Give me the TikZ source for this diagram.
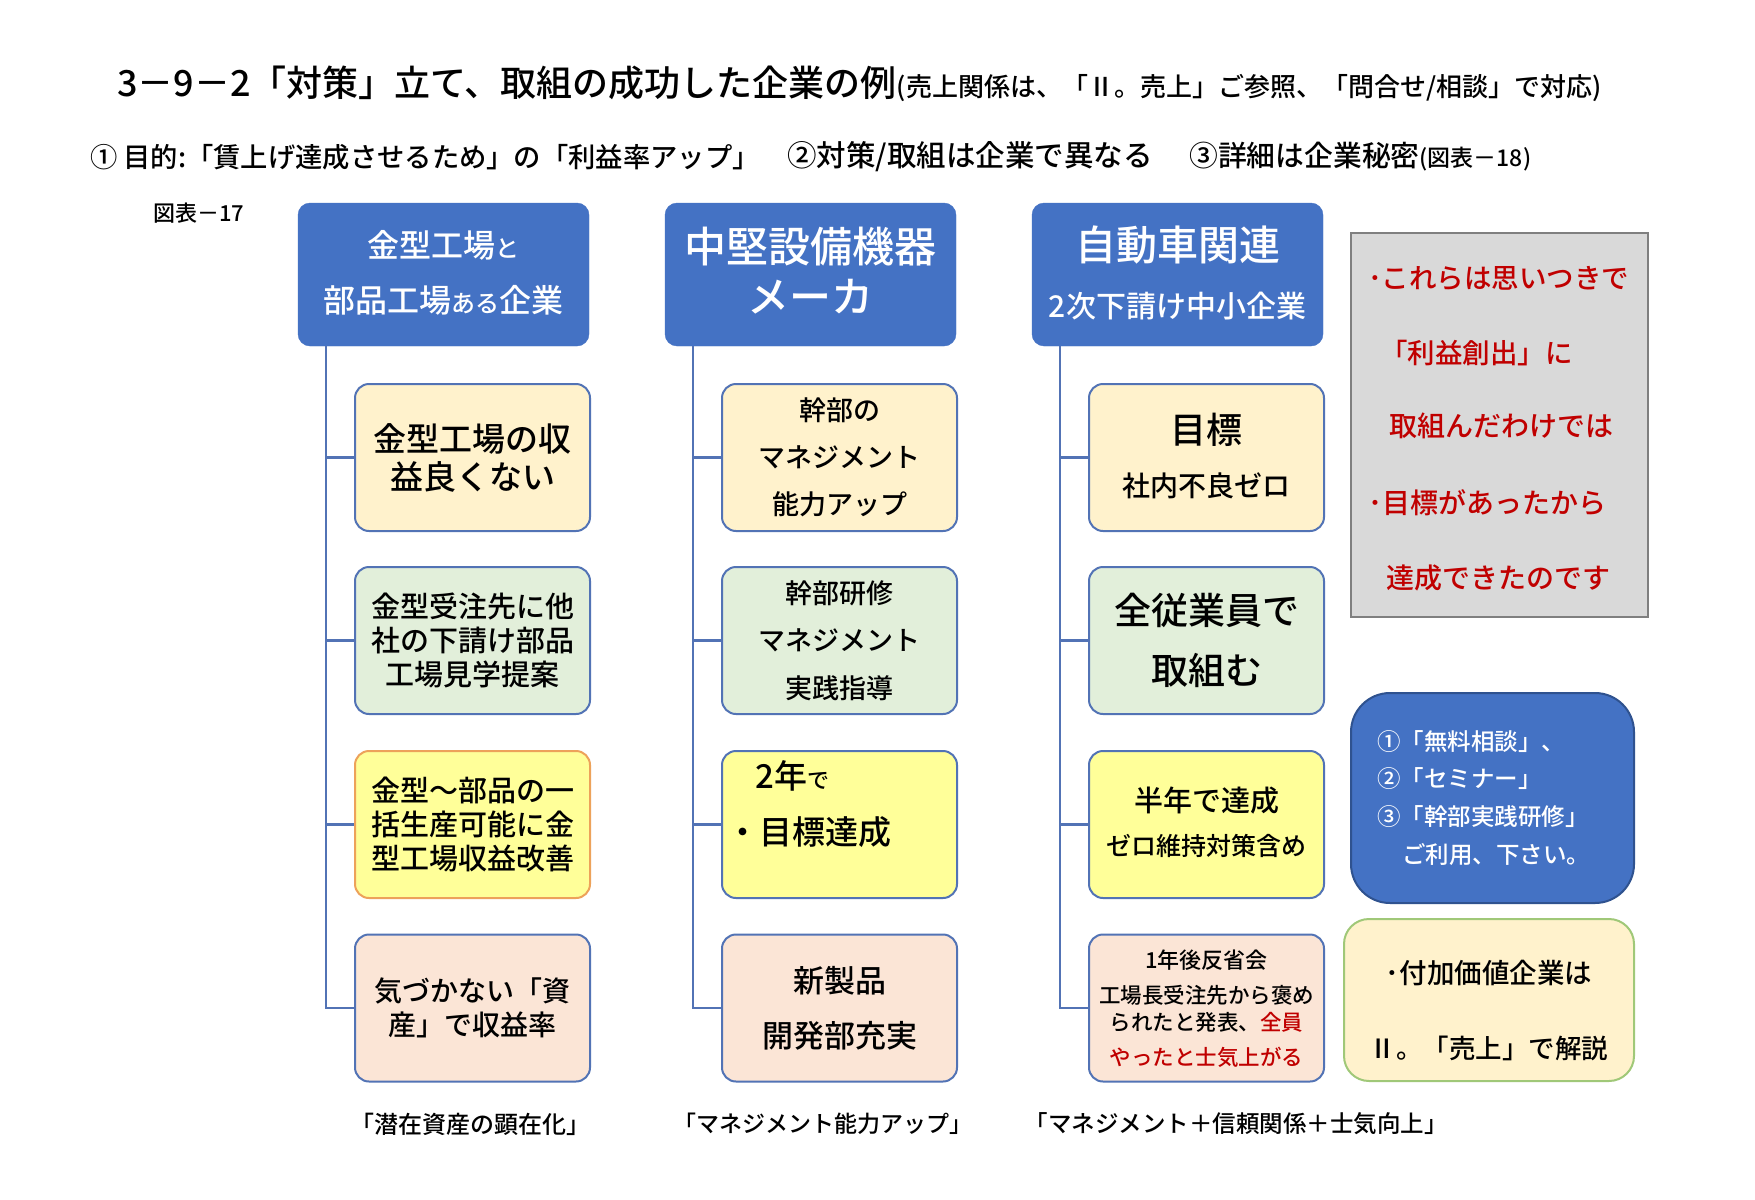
\documentclass[tikz,border=0pt]{standalone}
\usepackage{fontspec}
\setmainfont{Noto Sans CJK JP}[BoldFont={Noto Sans CJK JP Medium}]
\usetikzlibrary{calc}
\definecolor{hblue}{HTML}{4472C4}
\definecolor{bdr}{HTML}{5273B5}
\definecolor{dblue}{HTML}{2F528F}
\definecolor{fy}{HTML}{FFF2CC}
\definecolor{fg}{HTML}{E2EFDA}
\definecolor{fyy}{HTML}{FFFF99}
\definecolor{fp}{HTML}{FBE5D6}
\definecolor{org}{HTML}{EDA25A}
\definecolor{jred}{HTML}{C00000}
\definecolor{gbox}{HTML}{D9D9D9}
\definecolor{gbdr}{HTML}{7F7F7F}
\definecolor{grn}{HTML}{A0C878}
\newcommand{\fsz}[1]{\fontsize{#1}{#1}\selectfont}
\newcommand{\fsl}[2]{\fontsize{#1}{#2}\selectfont}
\tikzset{
  hbox/.style={draw=hblue, fill=hblue, rounded corners=12pt, minimum width=291pt, minimum height=143pt, inner sep=0pt},
  cbox/.style={draw=bdr, line width=2pt, rounded corners=14pt, minimum width=235pt, minimum height=147pt, inner sep=0pt, align=center},
  txt/.style={inner sep=0pt},
  htxt/.style={inner sep=0pt, text=white},
  conn/.style={draw=bdr, line width=2.2pt},
}
\begin{document}
\begin{tikzpicture}[x=1pt,y=-1pt]
\useasboundingbox (0,0) rectangle (1755,1199);
\fill[white] (0,0) rectangle (1755,1199);

% title
\node[txt, anchor=west] (title) at (117,84) {\bfseries{\fsz{36}3－9－2「対策」立て、取組の成功した企業の例}{\fsz{26}(売上関係は、「Ⅱ。売上」ご参照、「問合せ/相談」で対応)}};
\node[txt, anchor=west] (l2a) at (90,157) {\bfseries\fsz{27.3}① 目的:「賃上げ達成させるため」の「利益率アップ」};
\node[txt, anchor=west] (l2b) at (787,157) {\bfseries\fsz{29.5}②対策/取組は企業で異なる};
\node[txt, anchor=west] (l2c) at (1189,157) {\bfseries{\fsz{28.8}③詳細は企業秘密}{\fsz{23}(図表－18)}};
\node[txt, anchor=west] (fig) at (153,213) {\bfseries\fsz{22}図表－17};

% headers
\node[hbox] (h1) at (443.5,274.5) {};
\node[hbox] (h2) at (810.5,274.5) {};
\node[hbox] (h3) at (1177.5,274.5) {};
\node[htxt] (h1a) at (443.5,245) {\bfseries\fsz{32}金型工場{\fsz{24}と}};
\node[htxt] (h1b) at (443.5,300) {\bfseries\fsz{32}部品工場{\fsz{24}ある}企業};
\node[htxt] (h2a) at (810.5,247) {\bfseries\fsz{42}中堅設備機器};
\node[htxt] (h2b) at (810.5,297) {\bfseries\fsz{42}メーカ};
\node[htxt] (h3a) at (1177.5,245) {\bfseries\fsz{41}自動車関連};
\node[htxt] (h3b) at (1177.5,306) {\bfseries\fsz{30}2次下請け中小企業};

% column 1
\node[cbox, fill=fy, font={\bfseries\fsl{33}{38}}] (c11) at (472.5,457.5) {金型工場の収\\益良くない};
\node[cbox, fill=fg, font={\bfseries\fsl{29}{34}}] (c12) at (472.5,640.5) {金型受注先に他\\社の下請け部品\\工場見学提案};
\node[cbox, draw=org, fill=fyy, font={\bfseries\fsl{29}{34}}] (c13) at (472.5,824.5) {金型～部品の一\\括生産可能に金\\型工場収益改善};
\node[cbox, fill=fp, font={\bfseries\fsl{28}{34}}] (c14) at (472.5,1008) {気づかない「資\\産」で収益率};

% column 2
\node[cbox, fill=fy, font={\bfseries\fsl{27}{47}}] (c21) at (839.5,457.5) {幹部の\\マネジメント\\能力アップ};
\node[cbox, fill=fg, font={\bfseries\fsl{27}{47.5}}] (c22) at (839.5,640.5) {幹部研修\\マネジメント\\実践指導};
\node[cbox, fill=fyy] (c23) at (839.5,824.5) {};
\node[txt, anchor=west] (c23a) at (755,776) {\bfseries\fsz{33}2年{\fsz{22}で}};
\node[txt, anchor=west] (c23b) at (726,832) {\bfseries\fsz{33}・目標達成};
\node[cbox, fill=fp, font={\bfseries\fsl{31}{55}}] (c24) at (839.5,1008) {新製品\\開発部充実};

% column 3
\node[cbox, fill=fy] (c31) at (1206.5,457.5) {};
\node[txt] (c31a) at (1206.5,430) {\bfseries\fsz{36}目標};
\node[txt] (c31b) at (1206.5,486) {\bfseries\fsz{28}社内不良ゼロ};
\node[cbox, fill=fg, font={\bfseries\fsl{37}{60}}] (c32) at (1206.5,640.5) {全従業員で\\取組む};
\node[cbox, fill=fyy] (c33) at (1206.5,824.5) {};
\node[txt] (c33a) at (1206.5,801) {\bfseries\fsz{29}半年で達成};
\node[txt] (c33b) at (1206.5,846) {\bfseries\fsz{25}ゼロ維持対策含め};
\node[cbox, fill=fp] (c34) at (1206.5,1008) {};
\node[txt] (c34a) at (1206.5,960) {\bfseries\fsz{22}1年後反省会};
\node[txt] (c34b) at (1206.5,995) {\bfseries\fsz{21.5}工場長受注先から褒め};
\node[txt] (c34c) at (1206.5,1022) {\bfseries\fsz{21.5}られたと発表、\textcolor{jred}{全員}};
\node[txt, text=jred] (c34d) at (1206.5,1057) {\bfseries\fsz{21.5}やったと士気上がる};

% connectors
\coordinate (s1) at ($(h1.south west)+(28,0)$);
\coordinate (s2) at ($(h2.south west)+(28,0)$);
\coordinate (s3) at ($(h3.south west)+(28,0)$);
\foreach \c in {1,2,3}{
  \foreach \r in {1,2,3,4}{
    \draw[conn] (s\c) |- (c\c\r.west);
  }
}

% gray box
\node[draw=gbdr, line width=1.5pt, fill=gbox, minimum width=297pt, minimum height=384pt, inner sep=0pt] (gb) at (1499.5,425) {};
\node[txt, anchor=west, text=jred] (g1) at (1368,278) {\bfseries\fsz{27.5}･これらは思いつきで};
\node[txt, anchor=west, text=jred] (g2) at (1380,353) {\bfseries\fsz{27.5}「利益創出」に};
\node[txt, anchor=west, text=jred] (g3) at (1389,426) {\bfseries\fsz{28}取組んだわけでは};
\node[txt, anchor=west, text=jred] (g4) at (1368,503) {\bfseries\fsz{28}･目標があったから};
\node[txt, anchor=west, text=jred] (g5) at (1386,578) {\bfseries\fsz{28}達成できたのです};

% blue box
\node[draw=dblue, line width=2pt, fill=hblue, rounded corners=39pt, minimum width=283pt, minimum height=210pt, inner sep=0pt] (bb) at (1492.5,798) {};
\node[htxt, anchor=west] (b1) at (1377,742) {\bfseries\fsz{23.5}①「無料相談」、};
\node[htxt, anchor=west] (b2) at (1377,779) {\bfseries\fsz{23.5}②「セミナー」};
\node[htxt, anchor=west] (b3) at (1377,817) {\bfseries\fsz{23.5}③「幹部実践研修」};
\node[htxt, anchor=west] (b4) at (1402,855) {\bfseries\fsz{23.5}ご利用、下さい。};

% green box
\node[draw=grn, line width=2pt, fill=fy, rounded corners=25pt, minimum width=290pt, minimum height=162pt, inner sep=0pt] (gr) at (1489,1000) {};
\node[txt] (gr1) at (1489,973) {\bfseries\fsz{27.5}･付加価値企業は};
\node[txt] (gr2) at (1489,1048) {\bfseries\fsz{26.5}Ⅱ。「売上」で解説};

% bottom labels
\node[txt] (bl1) at (470,1124) {\bfseries\fsz{24}「潜在資産の顕在化」};
\node[txt] (bl2) at (823,1124) {\bfseries\fsz{23}「マネジメント能力アップ」};
\node[txt] (bl3) at (1236,1124) {\bfseries\fsz{23.5}「マネジメント＋信頼関係＋士気向上」};
\end{tikzpicture}
\end{document}
